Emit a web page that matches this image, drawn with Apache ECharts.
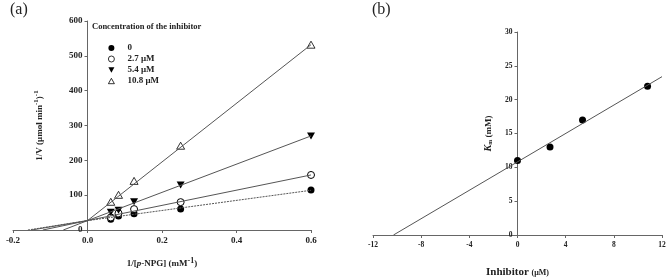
<!DOCTYPE html>
<html>
<head>
<meta charset="utf-8">
<script src="https://cdn.jsdelivr.net/npm/echarts@6/dist/echarts.min.js"></script>
<style>
html,body{margin:0;padding:0;background:#fff;}
#c{width:669px;height:278px;}
</style>
</head>
<body>
<div id="c"></div>
<script>
// Panel (a): Lineweaver-Burk data
const xA = [0.0625, 0.0833, 0.125, 0.25, 0.6];
const seriesNamesA = ['0', '2.7 μM', '5.4 μM', '10.8 μM'];
const yA0 = [31, 40, 47, 60, 115];
const yA27 = [36, 48, 60, 80, 158];
const yA54 = [51, 57, 81, 129, 270];
const yA108 = [81, 101, 141, 242, 532];
// fitted lines (read endpoints)
const lineA0 = [[-0.16, 0], [0, 27], [0.6, 114]];
const lineA27 = [[-0.15, 0], [0, 27], [0.6, 158]];
const lineA54 = [[-0.12, 0], [0, 27], [0.6, 270]];
const lineA108 = [[-0.065, 0], [0, 27], [0.6, 532]];
const xTicksA = [-0.2, 0.0, 0.2, 0.4, 0.6];
const yTicksA = [0, 100, 200, 300, 400, 500, 600];

// Panel (b): Km vs inhibitor
const xB = [0, 2.7, 5.4, 10.8];
const yB = [11, 13, 17, 22];
const lineB = [[-10.3, 0], [12, 23.4]];
const xTicksB = [-12, -8, -4, 0, 4, 8, 12];
const yTicksB = [0, 5, 10, 15, 20, 25, 30];

const FONT = "'Liberation Serif', 'DejaVu Serif', serif";
const AX = '#666';
const TXT = '#222';
const downTri = 'path://M0,0 L10,0 L5,9 Z';
const upTri = 'path://M5,0 L10,9 L0,9 Z';

function pts(xs, ys) { return xs.map((x, i) => [x, ys[i]]); }

const chart = echarts.init(document.getElementById('c'), null, {renderer: 'canvas'});

const axisLbl = (size) => ({color: TXT, fontFamily: FONT, fontWeight: 'bold', fontSize: size});

// grids
const gA = {left: 13, top: 21, width: 298, height: 209};
const gB = {left: 373, top: 32, width: 289, height: 203};
// shift y axes so they sit on x = 0 (offset moves the whole axis: line, ticks, labels, name)
const offA = -gA.width * (0 - (-0.2)) / (0.6 - (-0.2));
const offB = -gB.width * (0 - (-12)) / (12 - (-12));

const option = {
  animation: false,
  backgroundColor: '#fff',
  title: [
    {text: '(a)', left: 10, top: 2, padding: 0, textStyle: {fontFamily: FONT, fontWeight: 'normal', fontSize: 16, color: TXT}},
    {text: '(b)', left: 372, top: 2, padding: 0, textStyle: {fontFamily: FONT, fontWeight: 'normal', fontSize: 16, color: TXT}},
    {text: 'Concentration of the inhibitor', left: 92, top: 22, padding: 0, textStyle: {fontFamily: FONT, fontWeight: 'bold', fontSize: 8.5, color: TXT}}
  ],
  legend: {
    data: seriesNamesA,
    orient: 'vertical',
    left: 108, top: 43, padding: 0,
    itemWidth: 6, itemHeight: 6, itemGap: 1,
    itemStyle: {borderWidth: 0.8},
    textStyle: {fontFamily: FONT, fontWeight: 'bold', fontSize: 9, color: TXT, padding: [0, 0, 0, 8], lineHeight: 10}
  },
  grid: [
    Object.assign({containLabel: false, outerBoundsMode: 'none'}, gA),
    Object.assign({containLabel: false, outerBoundsMode: 'none'}, gB)
  ],
  xAxis: [
    {
      type: 'value', gridIndex: 0, min: -0.2, max: 0.6, interval: 0.2,
      axisLine: {lineStyle: {color: AX}},
      axisTick: {length: 3, lineStyle: {color: AX}},
      splitLine: {show: false},
      axisLabel: Object.assign(axisLbl(9), {margin: 6, formatter: v => v.toFixed(1)}),
      name: '1/[{it|p}-NPG] (mM{sup|-1})', nameLocation: 'middle', nameGap: 27, nameMoveOverlap: false,
      nameTextStyle: {fontFamily: FONT, fontWeight: 'bold', fontSize: 9, color: TXT,
        rich: {it: {fontStyle: 'italic', fontFamily: FONT, fontWeight: 'bold', fontSize: 9, color: TXT},
               sup: {fontFamily: FONT, fontWeight: 'bold', fontSize: 8, color: TXT, verticalAlign: 'top', lineHeight: 14}}}
    },
    {
      type: 'value', gridIndex: 1, min: -12, max: 12, interval: 4,
      axisLine: {lineStyle: {color: AX}},
      axisTick: {length: 3, lineStyle: {color: AX}},
      splitLine: {show: false},
      axisLabel: Object.assign(axisLbl(7.5), {margin: 6}),
      name: 'Inhibitor {s|(μM)}', nameLocation: 'middle', nameGap: 32, nameMoveOverlap: false,
      nameTextStyle: {fontFamily: FONT, fontWeight: 'bold', fontSize: 11, color: TXT,
        rich: {s: {fontFamily: FONT, fontWeight: 'bold', fontSize: 8, color: TXT}}}
    }
  ],
  yAxis: [
    {
      type: 'value', gridIndex: 0, min: 0, max: 600, interval: 100, position: 'left', offset: offA,
      axisLine: {show: true, onZero: false, lineStyle: {color: AX}},
      axisTick: {show: true, length: 3, lineStyle: {color: AX}},
      splitLine: {show: false},
      axisLabel: Object.assign(axisLbl(9), {margin: 5}),
      name: '1/V (μmol min{sup|-1}){sup|-1}', nameLocation: 'middle', nameGap: 41, nameMoveOverlap: false,
      nameTextStyle: {fontFamily: FONT, fontWeight: 'bold', fontSize: 9, color: TXT,
        rich: {sup: {fontFamily: FONT, fontWeight: 'bold', fontSize: 7, color: TXT, verticalAlign: 'top', lineHeight: 14}}}
    },
    {
      type: 'value', gridIndex: 1, min: 0, max: 30, interval: 5, position: 'left', offset: offB,
      axisLine: {show: true, onZero: false, lineStyle: {color: AX}},
      axisTick: {show: true, length: 3, lineStyle: {color: AX}},
      splitLine: {show: false},
      axisLabel: Object.assign(axisLbl(7.5), {margin: 5}),
      name: '{it|K}{sub|m} (mM)', nameLocation: 'middle', nameGap: 24, nameMoveOverlap: false,
      nameTextStyle: {fontFamily: FONT, fontWeight: 'bold', fontSize: 9, color: TXT,
        rich: {it: {fontStyle: 'italic', fontFamily: FONT, fontWeight: 'bold', fontSize: 10, color: TXT},
               sub: {fontFamily: FONT, fontWeight: 'bold', fontSize: 6, color: TXT, verticalAlign: 'bottom'}}}
    }
  ],
  series: [
    // fitted lines (a)
    {type: 'line', xAxisIndex: 0, yAxisIndex: 0, data: lineA0, symbol: 'none', silent: true,
     lineStyle: {color: '#555', width: 1, type: [2, 1]}},
    {type: 'line', xAxisIndex: 0, yAxisIndex: 0, data: lineA27, symbol: 'none', silent: true,
     lineStyle: {color: '#555', width: 1}},
    {type: 'line', xAxisIndex: 0, yAxisIndex: 0, data: lineA54, symbol: 'none', silent: true,
     lineStyle: {color: '#555', width: 1}},
    {type: 'line', xAxisIndex: 0, yAxisIndex: 0, data: lineA108, symbol: 'none', silent: true,
     lineStyle: {color: '#555', width: 1}},
    // points (a)
    {name: seriesNamesA[0], type: 'scatter', xAxisIndex: 0, yAxisIndex: 0, data: pts(xA, yA0),
     symbol: 'circle', symbolSize: 7, itemStyle: {color: '#000', opacity: 1}},
    {name: seriesNamesA[1], type: 'scatter', xAxisIndex: 0, yAxisIndex: 0, data: pts(xA, yA27),
     symbol: 'circle', symbolSize: 7, itemStyle: {color: '#fff', borderColor: '#000', borderWidth: 1, opacity: 1}},
    {name: seriesNamesA[2], type: 'scatter', xAxisIndex: 0, yAxisIndex: 0, data: pts(xA, yA54),
     symbol: downTri, symbolSize: [8, 7], itemStyle: {color: '#000', opacity: 1}},
    {name: seriesNamesA[3], type: 'scatter', xAxisIndex: 0, yAxisIndex: 0, data: pts(xA, yA108),
     symbol: upTri, symbolSize: [8, 7], itemStyle: {color: '#fff', borderColor: '#000', borderWidth: 0.8, opacity: 1}},
    // panel (b)
    {type: 'line', xAxisIndex: 1, yAxisIndex: 1, data: lineB, symbol: 'none', silent: true,
     lineStyle: {color: '#555', width: 1}},
    {type: 'scatter', xAxisIndex: 1, yAxisIndex: 1, data: pts(xB, yB),
     symbol: 'circle', symbolSize: 7, itemStyle: {color: '#000', opacity: 1}}
  ]
};
chart.setOption(option);
</script>
</body>
</html>
